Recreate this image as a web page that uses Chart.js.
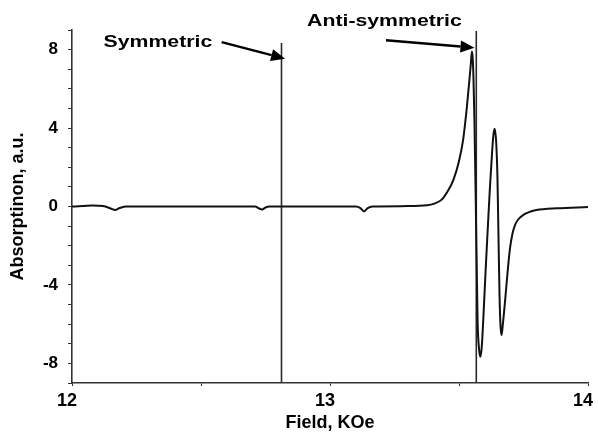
<!DOCTYPE html>
<html lang="en">
<head>
  <meta charset="UTF-8">
  <title>Absorption vs field</title>
  <script src="https://cdn.jsdelivr.net/npm/chart.js"></script>
  <style>
    body { margin: 0; background: #fff; }
    canvas { display: block; }
  </style>
</head>
<body>
  <canvas id="absChart" width="598" height="432"></canvas>

  <script>
    // spectrum
    const fieldKOe = [
      12.00, 12.04, 12.08, 12.12, 12.15, 12.167, 12.185, 12.21, 12.40, 12.60,
      12.71, 12.725, 12.737, 12.75, 12.765, 12.90, 13.10, 13.118, 13.132, 13.146,
      13.165, 13.30, 13.376, 13.405, 13.433, 13.455, 13.478, 13.498, 13.516, 13.530,
      13.540, 13.546, 13.550, 13.553, 13.556, 13.560, 13.565, 13.572, 13.578, 13.583,
      13.588, 13.594, 13.603, 13.612, 13.620, 13.628, 13.633, 13.638, 13.644, 13.649,
      13.653, 13.657, 13.661, 13.665, 13.670, 13.678, 13.690, 13.698, 13.707, 13.717,
      13.730, 13.749, 13.775, 13.80, 13.88, 14.00
    ];
    const absorption = [
      0.00, 0.02, 0.05, 0.02, -0.10, -0.18, -0.08, 0.00, 0.00, 0.00,
      0.00, -0.10, -0.15, -0.05, 0.00, 0.00, 0.00, -0.08, -0.25, -0.08,
      0.00, 0.02, 0.06, 0.15, 0.35, 0.75, 1.35, 2.20, 3.40, 5.00,
      6.40, 7.30, 7.90, 7.60, 6.60, 4.30, 0.20, -5.80, -7.30, -7.66,
      -7.20, -5.80, -3.30, -1.00, 1.00, 2.70, 3.60, 3.96, 3.30, 1.50,
      -1.50, -4.50, -6.10, -6.55, -6.00, -4.90, -3.10, -2.10, -1.40, -0.95,
      -0.65, -0.43, -0.27, -0.18, -0.09, -0.03
    ];

    // vertical marker lines (field position, top value)
    const markerFields = [12.812, 13.567];
    const markerTops = [8.34, 8.95];

    // annotations: text centre and arrow tail -> tip, in data units
    const noteTexts = ['Symmetric', 'Anti-symmetric'];
    const noteX = [12.333, 13.211];
    const noteY = [8.39, 9.46];
    const arrowFromX = [12.580, 13.217];
    const arrowFromY = [8.38, 8.48];
    const arrowToX = [12.826, 13.560];
    const arrowToY = [7.54, 8.10];

    const xTickLabels = [12, 13, 14];
    const yTickLabels = [-8, -4, 0, 4, 8];

    const curve = fieldKOe.map((f, i) => ({ x: f, y: absorption[i] }));
    const markerSets = markerFields.map((f, i) => ({
      data: [{ x: f, y: -9 }, { x: f, y: markerTops[i] }],
      borderColor: '#2a2a2a',
      borderWidth: 1.6,
      pointRadius: 0
    }));

    const notesPlugin = {
      id: 'notes',
      afterDatasetsDraw(chart) {
        const c = chart.ctx;
        const xs = chart.scales.x, ys = chart.scales.y;
        c.save();
        c.fillStyle = '#000';
        c.strokeStyle = '#000';
        c.font = 'bold 17px "Liberation Sans", Arial, sans-serif';
        c.textAlign = 'center';
        c.textBaseline = 'middle';
        for (let i = 0; i < noteTexts.length; i++) {
          c.save();
          c.translate(xs.getPixelForValue(noteX[i]), ys.getPixelForValue(noteY[i]));
          c.scale(1.25, 1);
          c.fillText(noteTexts[i], 0, 0);
          c.restore();

          const x0 = xs.getPixelForValue(arrowFromX[i]);
          const y0 = ys.getPixelForValue(arrowFromY[i]);
          const x1 = xs.getPixelForValue(arrowToX[i]);
          const y1 = ys.getPixelForValue(arrowToY[i]);
          const ang = Math.atan2(y1 - y0, x1 - x0);
          const headLen = 14, headW = 6;
          const bx = x1 - headLen * Math.cos(ang);
          const by = y1 - headLen * Math.sin(ang);
          c.lineWidth = 2.5;
          c.beginPath();
          c.moveTo(x0, y0);
          c.lineTo(bx, by);
          c.stroke();
          c.beginPath();
          c.moveTo(x1, y1);
          c.lineTo(bx + headW * Math.sin(ang), by - headW * Math.cos(ang));
          c.lineTo(bx - headW * Math.sin(ang), by + headW * Math.cos(ang));
          c.closePath();
          c.fill();
        }
        c.restore();
      }
    };

    const axisFont = { family: '"Liberation Sans", Arial, sans-serif', weight: 'bold' };

    new Chart(document.getElementById('absChart').getContext('2d'), {
      type: 'line',
      data: {
        datasets: [{
          data: curve,
          borderColor: '#111',
          borderWidth: 2,
          pointRadius: 0,
          cubicInterpolationMode: 'monotone'
        }].concat(markerSets)
      },
      options: {
        responsive: false,
        animation: false,
        devicePixelRatio: 1,
        layout: { padding: { top: 30, right: 10, bottom: 0, left: 0 } },
        plugins: {
          legend: { display: false },
          tooltip: { enabled: false }
        },
        scales: {
          x: {
            type: 'linear',
            min: 12,
            max: 14,
            afterFit(scale) {
              scale.height = 49;
              scale.paddingLeft = 0;
              scale.paddingRight = 0;
            },
            border: { color: '#333', width: 1.6 },
            grid: { drawOnChartArea: false, tickLength: 3, color: '#333' },
            ticks: {
              stepSize: 0.5,
              autoSkip: false,
              padding: 4,
              labelOffset: -5,
              maxRotation: 0,
              color: '#000',
              font: { ...axisFont, size: 18 },
              callback: v => xTickLabels.includes(v) ? String(v) : ''
            },
            title: {
              display: true,
              text: 'Field, KOe',
              color: '#000',
              padding: { top: 0, bottom: 0 },
              font: { ...axisFont, size: 18, lineHeight: 1 }
            }
          },
          y: {
            type: 'linear',
            min: -9,
            max: 9,
            afterFit(scale) {
              scale.width = 72;
              scale.paddingTop = 0;
              scale.paddingBottom = 0;
            },
            border: { color: '#333', width: 1.6 },
            grid: { drawOnChartArea: false, tickLength: 4, color: '#333' },
            ticks: {
              stepSize: 1,
              autoSkip: false,
              padding: 10,
              color: '#000',
              font: { ...axisFont, size: 17 },
              callback: v => yTickLabels.includes(v) ? String(v) : ''
            },
            title: {
              display: true,
              text: 'Absorptinon, a.u.',
              color: '#000',
              padding: { top: 7, bottom: 0 },
              font: { ...axisFont, size: 18 }
            }
          }
        }
      },
      plugins: [notesPlugin]
    });
  </script>
</body>
</html>
